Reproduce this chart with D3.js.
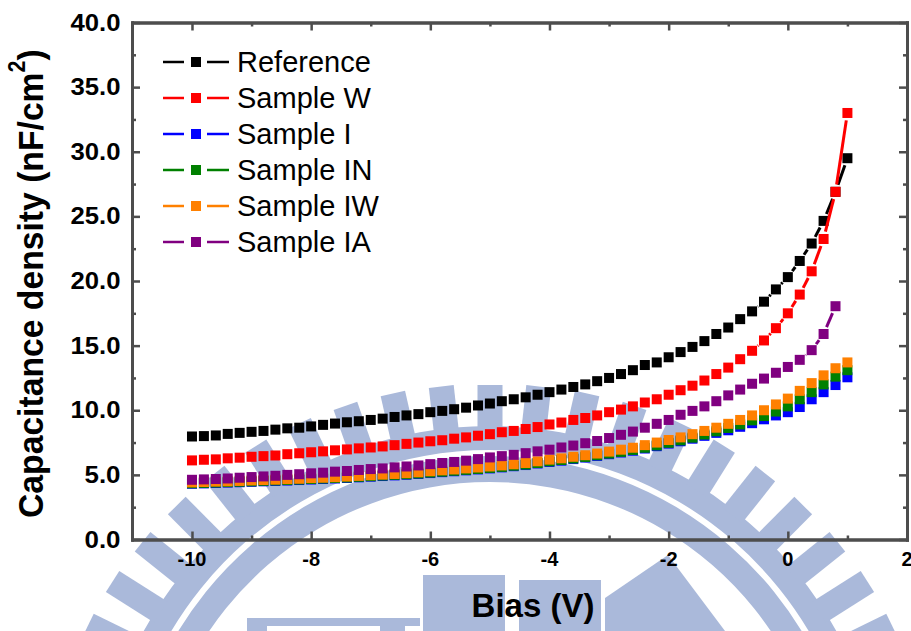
<!DOCTYPE html>
<html>
<head>
<meta charset="utf-8">
<script src="https://d3js.org/d3.v7.min.js"></script>
<style>
    html, body { margin: 0; padding: 0; background: #fff; }
    svg { display: block; font-family: "Liberation Sans", Arial, sans-serif; }
</style>
</head>
<body>
<svg id="chart" width="911" height="631"></svg>
<script>
const bias = [
    -10, -9.8, -9.6, -9.4, -9.2, -9, -8.8, -8.6, -8.4, -8.2,
    -8, -7.8, -7.6, -7.4, -7.2, -7, -6.8, -6.6, -6.4, -6.2,
    -6, -5.8, -5.6, -5.4, -5.2, -5, -4.8, -4.6, -4.4, -4.2,
    -4, -3.8, -3.6, -3.4, -3.2, -3, -2.8, -2.6, -2.4, -2.2,
    -2, -1.8, -1.6, -1.4, -1.2, -1, -0.8, -0.6, -0.4, -0.2,
    0, 0.2, 0.4, 0.6, 0.8, 1,
];
const reference = [
    7.97, 8.0, 8.05, 8.17, 8.25, 8.33, 8.4, 8.5, 8.6, 8.65,
    8.75, 8.87, 8.97, 9.07, 9.15, 9.25, 9.35, 9.48, 9.6, 9.7,
    9.85, 9.95, 10.08, 10.2, 10.37, 10.52, 10.7, 10.85, 11.0, 11.2,
    11.4, 11.6, 11.8, 12.0, 12.25, 12.5, 12.8, 13.1, 13.5, 13.7,
    14.1, 14.5, 14.9, 15.35, 15.9, 16.4, 17.05, 17.65, 18.4, 19.35,
    20.3, 21.55, 22.9, 24.65, 26.9, 29.5,
];
const sampleW = [
    6.12, 6.17, 6.2, 6.28, 6.33, 6.4, 6.45, 6.5, 6.6, 6.67,
    6.75, 6.82, 6.9, 6.97, 7.05, 7.12, 7.2, 7.3, 7.4, 7.5,
    7.6, 7.68, 7.8, 7.9, 8.03, 8.15, 8.3, 8.4, 8.55, 8.7,
    8.9, 9.05, 9.25, 9.4, 9.6, 9.85, 10.05, 10.3, 10.6, 10.85,
    11.2, 11.55, 11.9, 12.3, 12.8, 13.3, 13.95, 14.6, 15.4, 16.35,
    17.5, 18.95, 20.75, 23.25, 26.9, 33.0,
];
const sampleI = [
    4.31, 4.34, 4.37, 4.4, 4.43, 4.46, 4.5, 4.53, 4.56, 4.6,
    4.64, 4.68, 4.72, 4.76, 4.81, 4.86, 4.91, 4.96, 5.01, 5.07,
    5.14, 5.21, 5.28, 5.35, 5.42, 5.5, 5.58, 5.67, 5.76, 5.88,
    6.0, 6.1, 6.22, 6.34, 6.47, 6.6, 6.73, 6.87, 7.04, 7.22,
    7.42, 7.6, 7.8, 8.02, 8.25, 8.45, 8.72, 9.0, 9.3, 9.6,
    9.85, 10.25, 10.85, 11.4, 11.95, 12.55,
];
const sampleIN = [
    4.35, 4.38, 4.41, 4.44, 4.47, 4.5, 4.54, 4.57, 4.6, 4.64,
    4.68, 4.72, 4.76, 4.8, 4.85, 4.9, 4.95, 5.0, 5.05, 5.11,
    5.18, 5.25, 5.32, 5.39, 5.46, 5.54, 5.62, 5.71, 5.8, 5.92,
    6.05, 6.15, 6.27, 6.39, 6.52, 6.65, 6.78, 6.93, 7.1, 7.28,
    7.48, 7.67, 7.88, 8.12, 8.37, 8.63, 8.9, 9.22, 9.55, 9.9,
    10.3, 10.85, 11.4, 12.0, 12.6, 13.1,
];
const sampleIW = [
    4.42, 4.45, 4.48, 4.5, 4.53, 4.57, 4.6, 4.63, 4.67, 4.7,
    4.75, 4.78, 4.82, 4.87, 4.92, 4.97, 5.02, 5.07, 5.13, 5.2,
    5.28, 5.35, 5.42, 5.5, 5.57, 5.65, 5.73, 5.82, 5.92, 6.05,
    6.18, 6.28, 6.4, 6.52, 6.65, 6.8, 6.95, 7.1, 7.3, 7.5,
    7.7, 7.9, 8.15, 8.4, 8.65, 8.95, 9.25, 9.6, 10.0, 10.45,
    10.9, 11.5, 12.1, 12.7, 13.25, 13.7,
];
// Sample IA stops at 0.8 V
const sampleIA = [
    4.62, 4.65, 4.68, 4.72, 4.78, 4.83, 4.88, 4.93, 5.0, 5.05,
    5.12, 5.17, 5.25, 5.3, 5.38, 5.45, 5.5, 5.58, 5.65, 5.73,
    5.83, 5.92, 6.0, 6.1, 6.22, 6.35, 6.45, 6.55, 6.68, 6.82,
    6.95, 7.12, 7.27, 7.45, 7.62, 7.85, 8.1, 8.35, 8.65, 8.95,
    9.25, 9.65, 9.95, 10.3, 10.7, 11.15, 11.6, 12.05, 12.45, 12.9,
    13.35, 13.9, 14.65, 15.9, 18.05,
];
const seriesNames = ["Reference", "Sample W", "Sample I", "Sample IN", "Sample IW", "Sample IA"];
const seriesValues = [reference, sampleW, sampleI, sampleIN, sampleIW, sampleIA];
const seriesColors = ["#000000", "#ff0000", "#0000ff", "#008000", "#ff8000", "#800080"];
const xTicks = [-10, -8, -6, -4, -2, 0, 2];
const xMinorTicks = [-9, -7, -5, -3, -1, 1];
const yTicks = [0, 5, 10, 15, 20, 25, 30, 35, 40];
const yMinorTicks = [2.5, 7.5, 12.5, 17.5, 22.5, 27.5, 32.5, 37.5];

const left = 132, right = 907, top_ = 22.5, bottom = 539.5;
const markerSize = 10;
const symbolGap = 7.5; // line stops short of the marker

const svg = d3.select("#chart");
const x = d3.scaleLinear().domain([-11, 2]).range([left + 0.4, right]);
const y = d3.scaleLinear().domain([0, 40]).range([bottom, top_]);

// watermark behind the plot (university seal)
const seal = svg.append("g").attr("fill", "#aab9da");
const sealCx = 490, sealCy = 821;
const ring = d3.arc().startAngle(-Math.PI / 2.2).endAngle(Math.PI / 2.2);
seal.append("path")
    .attr("transform", `translate(${sealCx},${sealCy})`)
    .attr("d", ring({ innerRadius: 339, outerRadius: 365 }));
seal.append("path")
    .attr("transform", `translate(${sealCx},${sealCy})`)
    .attr("d", ring({ innerRadius: 371, outerRadius: 395 }));
// teeth get a bit longer away from the top of the seal
const toothTip = (k) => 436 + 11 * Math.min(Math.abs(k), 9) / 9;
seal.selectAll("rect.tooth")
    .data(d3.range(-11, 12))
    .join("rect")
    .attr("class", "tooth")
    .attr("x", -12.5)
    .attr("y", (k) => -toothTip(k))
    .attr("width", 25)
    .attr("height", (k) => toothTip(k) - 390)
    .attr("transform", (k) => `translate(${sealCx},${sealCy}) rotate(${k * 6.4})`);
seal.append("rect").attr("x", 423).attr("y", 575).attr("width", 82).attr("height", 56);
seal.append("rect").attr("x", 519).attr("y", 580).attr("width", 82).attr("height", 51);
seal.append("path").attr("d", "M605,598L668,555L725,631L605,631Z");
seal.append("rect").attr("x", 247).attr("y", 618).attr("width", 173).attr("height", 8);
seal.append("rect").attr("x", 247).attr("y", 626).attr("width", 20).attr("height", 5);
seal.append("rect").attr("x", 380).attr("y", 626).attr("width", 25).attr("height", 5);

// series: segments with a gap around each marker, then the squares
seriesValues.forEach((values, s) => {
    const g = svg.append("g");
    const pts = values.map((v, i) => [x(bias[i]), y(v)]);
    d3.pairs(pts).forEach(([a, b]) => {
        const dx = b[0] - a[0], dy = b[1] - a[1];
        const dist = Math.hypot(dx, dy);
        if (dist > 2 * symbolGap) {
            const ux = dx / dist, uy = dy / dist;
            g.append("line")
                .attr("x1", a[0] + ux * symbolGap)
                .attr("y1", a[1] + uy * symbolGap)
                .attr("x2", b[0] - ux * symbolGap)
                .attr("y2", b[1] - uy * symbolGap)
                .attr("stroke", seriesColors[s])
                .attr("stroke-width", 3);
        }
    });
    g.selectAll("rect")
        .data(pts)
        .join("rect")
        .attr("x", (d) => d[0] - markerSize / 2)
        .attr("y", (d) => d[1] - markerSize / 2)
        .attr("width", markerSize)
        .attr("height", markerSize)
        .attr("fill", seriesColors[s]);
});

// axes, mirrored on all four sides with inward ticks
const axisColor = "#4d4d4d";
function drawAxis(axisFn, scale, ticks, len, pos) {
    const g = svg.append("g")
        .attr("transform", pos)
        .call(axisFn(scale).tickValues(ticks).tickSize(len).tickSizeOuter(0).tickFormat(""));
    g.selectAll("path").attr("stroke", axisColor).attr("stroke-width", 3).attr("stroke-linecap", "square");
    g.selectAll("line").attr("stroke", axisColor).attr("stroke-width", 2.5);
    return g;
}
[[xTicks, 8], [xMinorTicks, 4]].forEach(([ticks, len]) => {
    drawAxis(d3.axisBottom, x, ticks, -len, `translate(0,${bottom})`);
    drawAxis(d3.axisTop, x, ticks, -len, `translate(0,${top_})`);
});
[[yTicks, 8], [yMinorTicks, 4]].forEach(([ticks, len]) => {
    drawAxis(d3.axisLeft, y, ticks, -len, `translate(${left},0)`);
    drawAxis(d3.axisRight, y, ticks, -len, `translate(${right},0)`);
});

// tick labels
svg.append("g").selectAll("text")
    .data(xTicks)
    .join("text")
    .attr("x", (d) => x(d))
    .attr("y", 566)
    .attr("text-anchor", "middle")
    .attr("font-size", 20)
    .attr("font-weight", "bold")
    .text((d) => d);
svg.append("g").selectAll("text")
    .data(yTicks)
    .join("text")
    .attr("x", 120.5)
    .attr("y", (d) => y(d) + 8)
    .attr("text-anchor", "end")
    .attr("font-size", 23)
    .attr("font-weight", "bold")
    .attr("textLength", (d) => d3.format(".1f")(d).length === 4 ? 50 : 36)
    .attr("lengthAdjust", "spacingAndGlyphs")
    .text((d) => d3.format(".1f")(d));

// axis titles
svg.append("text")
    .attr("x", 533)
    .attr("y", 617)
    .attr("text-anchor", "middle")
    .attr("font-size", 33)
    .attr("font-weight", "bold")
    .text("Bias (V)");
const yTitle = svg.append("text")
    .attr("transform", "translate(43,518) rotate(-90) scale(0.936,1)")
    .attr("font-size", 36)
    .attr("font-weight", "bold");
yTitle.append("tspan").text("Capacitance density (nF/cm");
yTitle.append("tspan").attr("dy", -18).attr("font-size", 23).text("2");
yTitle.append("tspan").attr("dy", 18).text(")");

// legend
const legend = svg.append("g").selectAll("g")
    .data(seriesNames)
    .join("g")
    .attr("transform", (d, i) => `translate(0,${62 + i * 36})`);
legend.append("line").attr("x1", 163).attr("x2", 184)
    .attr("stroke", (d, i) => seriesColors[i]).attr("stroke-width", 2.5);
legend.append("line").attr("x1", 207).attr("x2", 229)
    .attr("stroke", (d, i) => seriesColors[i]).attr("stroke-width", 2.5);
legend.append("rect").attr("x", 191).attr("y", -5)
    .attr("width", markerSize).attr("height", markerSize)
    .attr("fill", (d, i) => seriesColors[i]);
legend.append("text").attr("x", 237).attr("y", 10)
    .attr("font-size", 29)
    .text((d) => d);
</script>
</body>
</html>
